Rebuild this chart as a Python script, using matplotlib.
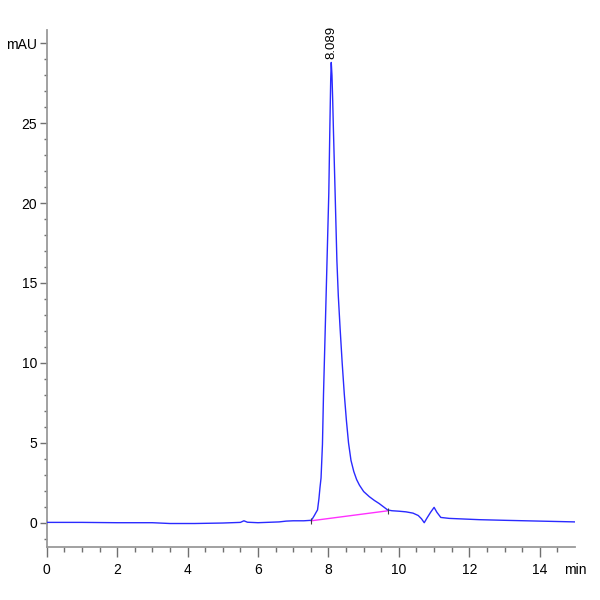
import matplotlib
matplotlib.use("Agg")
import matplotlib.pyplot as plt
from matplotlib.ticker import MultipleLocator

plt.rcParams['font.family'] = ['Liberation Sans Narrow', 'Liberation Sans', 'DejaVu Sans']

# Chromatogram trace (time in min, absorbance in mAU)
time_min = [0, 1, 2, 3, 3.5, 4.2, 5.0, 5.5, 5.6, 5.7, 6.0, 6.6, 6.8, 7.0, 7.3,
            7.51, 7.55, 7.60, 7.65, 7.69, 7.73, 7.76, 7.79, 7.83, 7.86, 7.91,
            7.96, 8.01, 8.04, 8.065, 8.08, 8.10, 8.12, 8.14, 8.19, 8.24, 8.28,
            8.33, 8.39, 8.45, 8.51, 8.57, 8.64, 8.72, 8.80, 8.88, 9.00, 9.16,
            9.30, 9.44, 9.56, 9.68, 9.80, 10.00, 10.20, 10.40, 10.55, 10.64,
            10.72, 10.80, 10.90, 11.00, 11.08, 11.19, 11.43, 12.28, 13.0, 14.0, 15.0]
signal_mau = [0.02, 0.02, 0.0, 0.0, -0.05, -0.05, -0.02, 0.02, 0.12, 0.03, 0.0, 0.05,
              0.10, 0.12, 0.12, 0.15, 0.27, 0.45, 0.65, 0.8, 1.5, 2.2, 2.8, 4.9,
              8.05, 12.2, 16.4, 20.6, 24.7, 27.8, 28.8, 28.0, 26.5, 24.7, 20.6,
              16.4, 14.2, 12.2, 10.0, 8.05, 6.4, 5.0, 3.9, 3.2, 2.7, 2.35, 1.95,
              1.63, 1.4, 1.2, 1.0, 0.8, 0.75, 0.72, 0.68, 0.6, 0.45, 0.25, 0.0,
              0.3, 0.65, 0.96, 0.65, 0.33, 0.27, 0.19, 0.15, 0.10, 0.05]

# Integration baseline of the main peak
baseline_t = [7.51, 9.70]
baseline_y = [0.12, 0.75]

peak_rt = 8.089
peak_height = 28.8
peak_label = "8.089"

x_ticks = [0, 2, 4, 6, 8, 10, 12, 14, 15]
x_labels = ["0", "2", "4", "6", "8", "10", "12", "14", "min"]
y_ticks = [0, 5, 10, 15, 20, 25, 30]
y_labels = ["0", "5", "10", "15", "20", "25", "mAU"]

fig = plt.figure(figsize=(6, 6), dpi=100)
ax = fig.add_axes([0.0778, 0.0878, 0.9583 - 0.0778, 0.95 - 0.0878])

ax.plot(time_min, signal_mau, color='#2a2aff', lw=1.0, zorder=3)
ax.plot(baseline_t, baseline_y, color='#ff30ff', lw=1.0, zorder=2)
ax.plot(baseline_t, baseline_y, linestyle='none', marker='|', markersize=5,
        color='#404040', mew=0.8, zorder=4)

ax.text(peak_rt, peak_height + 0.2, peak_label, rotation=90, ha='center', va='bottom',
        fontsize=9.5, color='black')

ax.set_xlim(0, 15)
ax.set_ylim(-1.54, 30.83)

for s in ['top', 'right']:
    ax.spines[s].set_visible(False)
for s in ['left', 'bottom']:
    ax.spines[s].set_color('#9a9a9a')
    ax.spines[s].set_linewidth(1.3)

ax.set_xticks(x_ticks)
ax.set_xticklabels(x_labels)
ax.set_yticks(y_ticks)
ax.set_yticklabels(y_labels)
ax.xaxis.set_minor_locator(MultipleLocator(0.5))
ax.yaxis.set_minor_locator(MultipleLocator(1))
ax.tick_params(axis='x', which='major', length=7, width=1, color='#707070',
               labelsize=10, pad=4)
ax.tick_params(axis='x', which='minor', length=3.5, width=1, color='#707070')
ax.tick_params(axis='y', which='major', length=5, width=1, color='#707070',
               labelsize=10, pad=2)
ax.tick_params(axis='y', which='minor', length=2.5, width=1, color='#707070')
ax.xaxis.get_major_ticks()[-1].tick1line.set_visible(False)

fig.savefig("out.png", dpi=100)
